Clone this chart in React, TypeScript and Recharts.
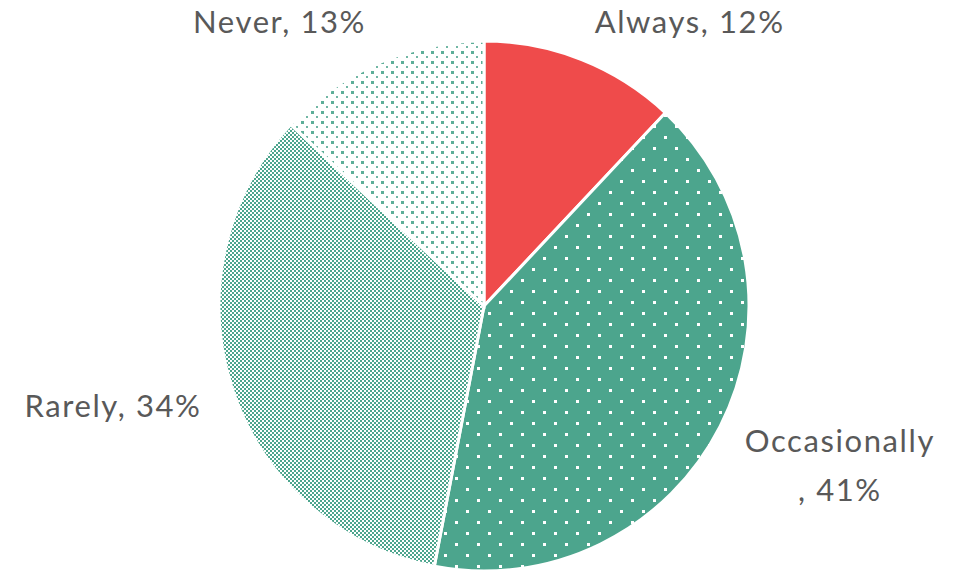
import { PieChart, Pie, Cell } from 'recharts';

const categories = ['Always', 'Occasionally', 'Rarely', 'Never'];
const shares = [12, 41, 34, 13];
const fills = ['#EF4B4B', 'url(#dotsBig)', 'url(#checker)', 'url(#dotsSmall)'];

const TEAL = '#4CA58D';
const FONT = 'Lato, "Open Sans", sans-serif';
const FONT_SIZE = 31;
const SPACING = 1.6;
const WEIGHT = 400;

const pieData = categories.map((name, i) => ({ name, value: shares[i] }));

function measure(text: string) {
  const c = document.createElement('canvas').getContext('2d');
  if (!c) return text.length * FONT_SIZE * 0.55;
  c.font = `${WEIGHT} ${FONT_SIZE}px Lato`;
  return c.measureText(text).width + SPACING * text.length;
}

const W = 964;
const RADIAN = Math.PI / 180;

function renderLabel(props: any) {
  const { cx, cy, midAngle, outerRadius, name, value } = props;
  const s = Math.cos(-midAngle * RADIAN);
  const c = Math.sin(-midAngle * RADIAN);
  const right = s >= 0;
  const r = outerRadius + (right ? 22 : 32);
  const x = cx + r * s + (right ? 5 : 0);
  const y = Math.max(cy + r * c + 22 * c, 21);
  const text = `${name}, ${value}%`;
  const full = measure(text);
  const common = {
    fill: '#595959',
    fontSize: FONT_SIZE,
    fontFamily: FONT,
    fontWeight: WEIGHT,
    letterSpacing: SPACING,
    dominantBaseline: 'central' as const,
  };
  if (right && x + full > W - 10) {
    const first = name;
    const second = `, ${value}%`;
    const w1 = measure(first);
    const mid = x + w1 / 2;
    return (
      <text x={mid} y={y - 6} textAnchor="middle" {...common}>
        <tspan x={mid} dy={0}>{first}</tspan>
        <tspan x={mid} dy={49}>{second}</tspan>
      </text>
    );
  }
  return (
    <text x={x} y={y} textAnchor={right ? 'start' : 'end'} {...common}>
      {text}
    </text>
  );
}

export default function App() {
  return (
    <div style={{ position: 'absolute', left: 0, top: 0, background: '#fff' }}>
      <PieChart width={W} height={572}>
        <defs>
          <pattern id="dotsBig" width={22} height={22} patternUnits="userSpaceOnUse">
            <rect width={22} height={22} fill={TEAL} />
            <rect x={4} y={4} width={3} height={3} fill="#fff" />
            <rect x={15} y={15} width={3} height={3} fill="#fff" />
          </pattern>
          <pattern id="checker" width={4} height={4} patternUnits="userSpaceOnUse">
            <rect width={4} height={4} fill="#fff" />
            <rect x={0} y={0} width={2} height={2} fill={TEAL} />
            <rect x={2} y={2} width={2} height={2} fill={TEAL} />
          </pattern>
          <pattern id="dotsSmall" width={10} height={10} patternUnits="userSpaceOnUse">
            <rect width={10} height={10} fill="#fff" />
            <rect x={1} y={1} width={3} height={3} fill={TEAL} fillOpacity={0.9} />
            <rect x={6} y={6} width={2} height={2} fill={TEAL} fillOpacity={0.8} />
          </pattern>
        </defs>
        <Pie
          data={pieData}
          dataKey="value"
          nameKey="name"
          cx={479}
          cy={301}
          outerRadius={265}
          startAngle={90}
          endAngle={-270}
          stroke="#fff"
          strokeWidth={3}
          label={renderLabel}
          labelLine={false}
          isAnimationActive={false}
        >
          {pieData.map((entry, index) => (
            <Cell key={`cell-${index}`} fill={fills[index]} />
          ))}
        </Pie>
      </PieChart>
    </div>
  );
}
